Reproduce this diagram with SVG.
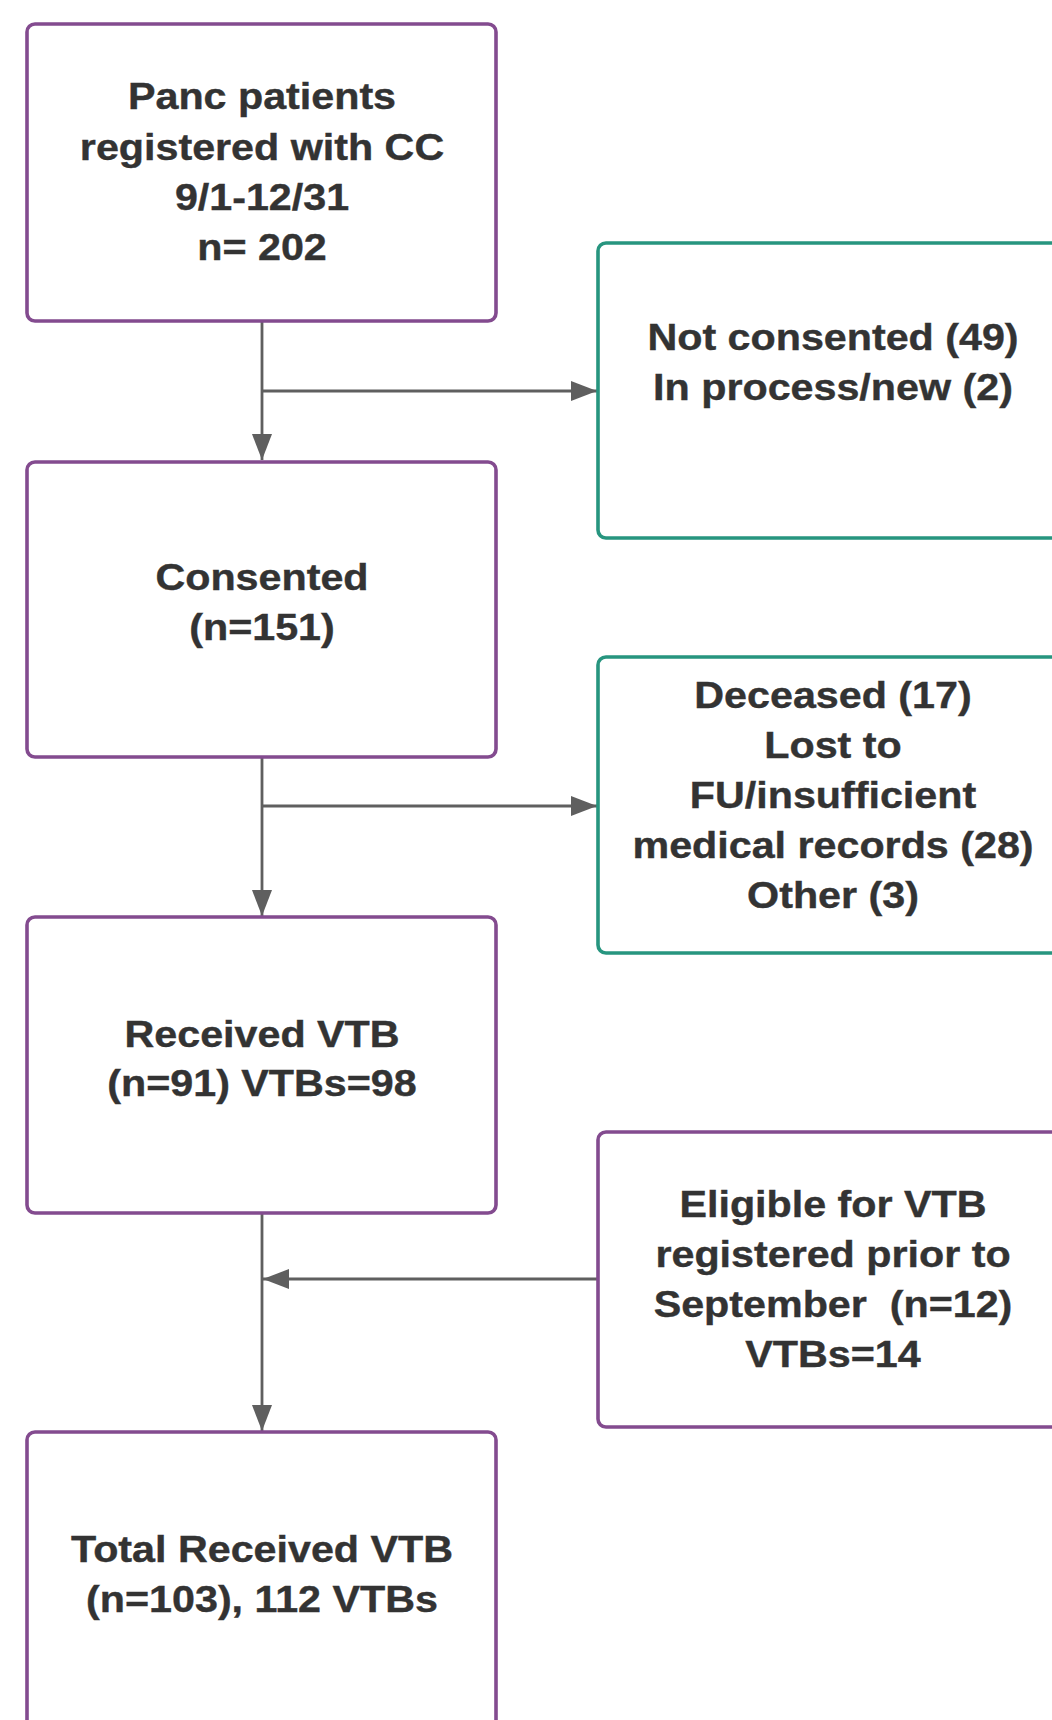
<svg xmlns="http://www.w3.org/2000/svg" width="1052" height="1720" viewBox="0 0 1052 1720">
<style>
.box{fill:#ffffff;stroke-width:3.6}
.p{stroke:#834b8f}
.g{stroke:#27957f}
.t{font-family:"Liberation Sans",Arial,sans-serif;font-weight:bold;font-size:37.5px;fill:#333333;text-anchor:middle;stroke:#333333;stroke-width:0.4}
.c{fill:none;stroke:#5f5f5f;stroke-width:2.8}
</style>
<defs>
<marker id="ah" markerUnits="userSpaceOnUse" markerWidth="27" markerHeight="21" refX="26" refY="10" orient="auto">
<path d="M0,0 L26,10 L0,20 z" fill="#5f5f5f"/>
</marker>
</defs>
<rect width="1052" height="1720" fill="#ffffff"/>
<g id="connectors">
<path class="c" d="M262,321 V460" marker-end="url(#ah)"/>
<path class="c" d="M262,391 H597" marker-end="url(#ah)"/>
<path class="c" d="M262,757 V916" marker-end="url(#ah)"/>
<path class="c" d="M262,806 H597" marker-end="url(#ah)"/>
<path class="c" d="M262,1213 V1431" marker-end="url(#ah)"/>
<path class="c" d="M598,1279 H263" marker-end="url(#ah)"/>
</g>
<g id="n1">
<rect class="box p" x="27" y="24" width="469" height="297" rx="8"/>
<text class="t" transform="translate(262,0) scale(1.1,1)"><tspan x="0" y="109">Panc patients</tspan><tspan x="0" y="160">registered with CC</tspan><tspan x="0" y="210">9/1-12/31</tspan><tspan x="0" y="260">n= 202</tspan></text>
</g>
<g id="n2">
<rect class="box g" x="598" y="243" width="472" height="295" rx="8"/>
<text class="t" transform="translate(833,0) scale(1.1,1)"><tspan x="0" y="350">Not consented (49)</tspan><tspan x="0" y="400">In process/new (2)</tspan></text>
</g>
<g id="n3">
<rect class="box p" x="27" y="462" width="469" height="295" rx="8"/>
<text class="t" transform="translate(262,0) scale(1.1,1)"><tspan x="0" y="590">Consented</tspan><tspan x="0" y="640">(n=151)</tspan></text>
</g>
<g id="n4">
<rect class="box g" x="598" y="657" width="472" height="296" rx="8"/>
<text class="t" transform="translate(833,0) scale(1.1,1)"><tspan x="0" y="708">Deceased (17)</tspan><tspan x="0" y="758">Lost to</tspan><tspan x="0" y="808">FU/insufficient</tspan><tspan x="0" y="858">medical records (28)</tspan><tspan x="0" y="908">Other (3)</tspan></text>
</g>
<g id="n5">
<rect class="box p" x="27" y="917" width="469" height="296" rx="8"/>
<text class="t" transform="translate(262,0) scale(1.1,1)"><tspan x="0" y="1047">Received VTB</tspan><tspan x="0" y="1096">(n=91) VTBs=98</tspan></text>
</g>
<g id="n6">
<rect class="box p" x="598" y="1132" width="472" height="295" rx="8"/>
<text class="t" transform="translate(833,0) scale(1.1,1)" xml:space="preserve"><tspan x="0" y="1217">Eligible for VTB</tspan><tspan x="0" y="1267">registered prior to</tspan><tspan x="0" y="1317">September  (n=12)</tspan><tspan x="0" y="1367">VTBs=14</tspan></text>
</g>
<g id="n7">
<rect class="box p" x="27" y="1432" width="469" height="320" rx="8"/>
<text class="t" transform="translate(262,0) scale(1.1,1)"><tspan x="0" y="1562">Total Received VTB</tspan><tspan x="0" y="1612">(n=103), 112 VTBs</tspan></text>
</g>
</svg>
